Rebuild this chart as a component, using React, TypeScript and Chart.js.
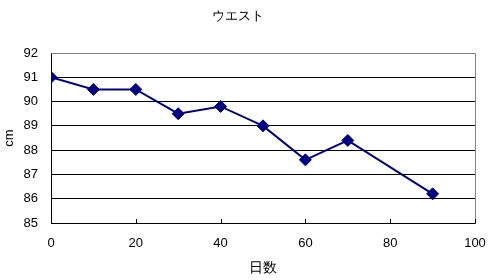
import React, { useEffect, useRef } from "react";
import { Chart, registerables } from "chart.js";

Chart.register(...registerables);

const titleText = "ウエスト";
const xTitle = "日数";
const yTitle = "cm";
const days = [0, 10, 20, 30, 40, 50, 60, 70, 90];
const waist = [91, 90.5, 90.5, 89.5, 89.8, 89.0, 87.6, 88.4, 86.2];
const xMin = 0, xMax = 100, xStep = 20;
const yMin = 85, yMax = 92, yStep = 1;

const FONT = "'Liberation Sans', Arial, sans-serif";

const framePlugin = {
  id: "frame",
  afterDraw(chart: any) {
    const { ctx, chartArea } = chart;
    const xs = chart.scales.x;
    ctx.save();
    ctx.strokeStyle = "#808080";
    ctx.lineWidth = 1;
    ctx.beginPath();
    ctx.moveTo(Math.round(chartArea.left) + 0.5, Math.round(chartArea.top) + 0.5);
    ctx.lineTo(Math.round(chartArea.right) + 0.5, Math.round(chartArea.top) + 0.5);
    ctx.lineTo(Math.round(chartArea.right) + 0.5, Math.round(chartArea.bottom) + 0.5);
    ctx.stroke();
    ctx.strokeStyle = "#000000";
    ctx.beginPath();
    xs.ticks.forEach((t: any) => {
      const px = Math.round(xs.getPixelForValue(t.value)) + 0.5;
      ctx.moveTo(px, chartArea.bottom);
      ctx.lineTo(px, chartArea.bottom - 4);
    });
    ctx.stroke();
    ctx.restore();
  },
};

export default function App() {
  const ref = useRef<HTMLCanvasElement | null>(null);
  useEffect(() => {
    if (!ref.current) return;
    const chart = new Chart(ref.current, {
      type: "scatter",
      data: {
        datasets: [
          {
            data: days.map((d, i) => ({ x: d, y: waist[i] })),
            showLine: true,
            borderColor: "#000080",
            backgroundColor: "#000080",
            borderWidth: 2,
            pointStyle: "rectRot",
            pointRadius: 6,
            pointBorderWidth: 1,
            pointBorderColor: "#000080",
            pointBackgroundColor: "#000080",
          },
        ],
      },
      options: {
        responsive: false,
        animation: false,
        layout: { padding: { left: 0, right: 25, top: 0, bottom: 0 } },
        plugins: {
          legend: { display: false },
          tooltip: { enabled: false },
          title: {
            display: true,
            text: titleText,
            color: "#000",
            font: { family: FONT, size: 13, weight: "normal", lineHeight: 1.2 },
            padding: { top: 9, bottom: 28.4 },
          },
        },
        scales: {
          x: {
            type: "linear",
            min: xMin,
            max: xMax,
            ticks: {
              stepSize: xStep,
              color: "#000",
              padding: 13,
              font: { family: FONT, size: 13 },
              maxRotation: 0,
            },
            grid: { display: true, drawOnChartArea: false, drawTicks: false },
            border: { color: "#000", width: 1 },
            title: {
              display: true,
              text: xTitle,
              color: "#000",
              font: { family: FONT, size: 14 },
              padding: { top: 0, bottom: 3 },
            },
            afterFit: (s: any) => {
              s.height = 57;
            },
          },
          y: {
            min: yMin,
            max: yMax,
            ticks: {
              stepSize: yStep,
              color: "#000",
              padding: 13,
              font: { family: FONT, size: 13 },
            },
            grid: {
              color: (c: any) => (c.tick && c.tick.value === yMax ? "#808080" : "#000"),
              lineWidth: 1,
              drawTicks: false,
            },
            border: { color: "#000", width: 1 },
            title: {
              display: true,
              text: yTitle,
              color: "#000",
              font: { family: FONT, size: 13 },
              padding: { top: 2, bottom: 0 },
            },
            afterFit: (s: any) => {
              s.width = 51;
            },
          },
        },
      },
      plugins: [framePlugin],
    });
    return () => chart.destroy();
  }, []);
  return (
    <div style={{ position: "fixed", left: 0, top: 0, width: 500, height: 280, background: "#fff" }}>
      <canvas ref={ref} width={500} height={280} />
    </div>
  );
}
